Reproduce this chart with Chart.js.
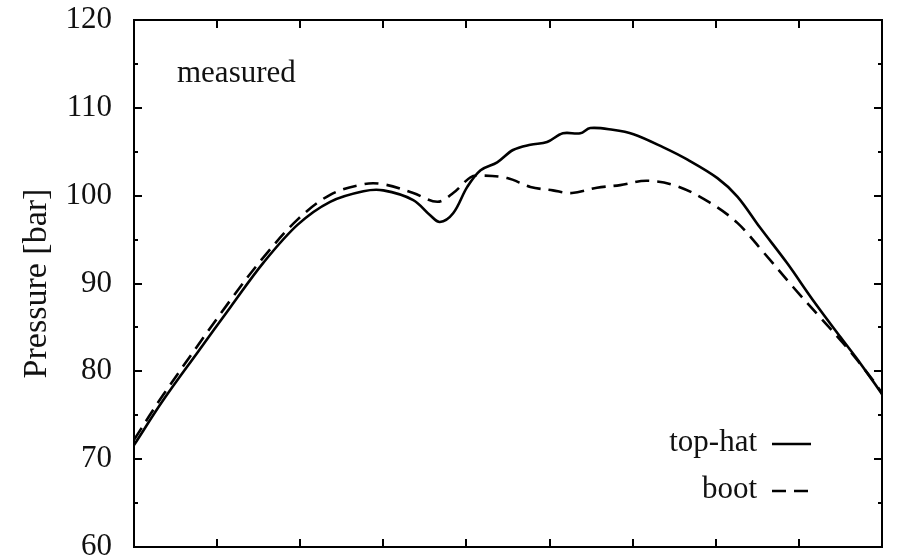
<!DOCTYPE html>
<html>
<head>
<meta charset="utf-8">
<script src="https://cdn.jsdelivr.net/npm/chart.js@4.4.0/dist/chart.umd.min.js"></script>
<style>
  html, body { margin: 0; padding: 0; background: #fff; }
  #wrap { width: 898px; height: 560px; }
</style>
</head>
<body>
<div id="wrap"><canvas id="pressureChart" width="898" height="560"></canvas></div>
<script>
// position along the (unlabelled) x axis, 0..9 between the frame edges
const topHatX = [0.00, 0.35, 0.76, 1.16, 1.56, 1.97, 2.36, 2.76, 3.00, 3.36, 3.56, 3.68, 3.84, 4.01, 4.17,
  4.37, 4.56, 4.77, 4.97, 5.16, 5.37, 5.49, 5.76, 6.01, 6.37, 6.66, 7.02, 7.26, 7.53, 7.86, 8.17, 8.50, 8.74, 9.00];
const topHatP = [71.6, 76.7, 82.1, 87.3, 92.4, 96.7, 99.3, 100.5, 100.6, 99.5, 97.8, 97.0, 98.0, 101.0, 102.9,
  103.8, 105.2, 105.8, 106.1, 107.1, 107.1, 107.7, 107.5, 107.0, 105.5, 104.1, 102.0, 99.9, 96.4, 92.3, 88.1, 83.9, 80.9, 77.4];

const bootX = [0.00, 0.35, 1.16, 1.56, 1.97, 2.36, 2.76, 3.00, 3.36, 3.65, 3.84, 4.05, 4.17, 4.49, 4.77,
  5.04, 5.27, 5.57, 5.85, 6.17, 6.53, 6.93, 7.26, 7.57, 7.93, 8.25, 8.57, 8.89, 9.00];
const bootP = [72.2, 77.3, 88.1, 93.0, 97.3, 100.1, 101.3, 101.3, 100.3, 99.3, 100.3, 102.1, 102.3, 102.0, 101.0,
  100.6, 100.3, 100.9, 101.2, 101.7, 101.1, 99.2, 96.9, 93.6, 89.6, 86.2, 82.8, 79.0, 77.5];

const yMin = 60, yMax = 120, yMajor = 10, yMinor = 5;
const xMin = 0, xMax = 9;
const seriesNames = ['top-hat', 'boot'];
const cornerLabel = 'measured';

const FONT = '"Liberation Serif", "Times New Roman", serif';

const toPoints = (xs, ys) => xs.map((x, i) => ({ x, y: ys[i] }));

// inward tick marks on all four sides, a corner note, and the legend
const framePlugin = {
  id: 'frame',
  afterDraw(chart) {
    const { ctx, chartArea: a } = chart;
    const sx = chart.scales.x, sy = chart.scales.y;
    ctx.save();
    ctx.strokeStyle = '#000';
    ctx.lineWidth = 2;
    ctx.beginPath();
    for (let v = xMin + 1; v < xMax; v++) {
      const px = Math.round(sx.getPixelForValue(v));
      ctx.moveTo(px, a.bottom); ctx.lineTo(px, a.bottom - 8);
      ctx.moveTo(px, a.top);    ctx.lineTo(px, a.top + 8);
    }
    for (let v = yMin + yMinor; v < yMax; v += yMinor) {
      const py = Math.round(sy.getPixelForValue(v));
      const len = v % yMajor === 0 ? 8 : 4;
      ctx.moveTo(a.left, py);  ctx.lineTo(a.left + len, py);
      ctx.moveTo(a.right, py); ctx.lineTo(a.right - len, py);
    }
    ctx.stroke();

    ctx.fillStyle = '#111';
    ctx.font = '31px ' + FONT;
    ctx.textAlign = 'left';
    ctx.textBaseline = 'alphabetic';
    ctx.fillText(cornerLabel, 177, 82);

    const ds = chart.data.datasets;
    const rows = [443, 490];
    ctx.textAlign = 'right';
    ctx.textBaseline = 'middle';
    rows.forEach((y, i) => {
      ctx.fillStyle = '#111';
      ctx.fillText(ds[i].label, 757, y);
      ctx.beginPath();
      ctx.lineWidth = 2.6;
      ctx.setLineDash(ds[i].borderDash || []);
      ctx.moveTo(772, y + 1); ctx.lineTo(811, y + 1);
      ctx.stroke();
    });
    ctx.restore();
  }
};

const noPad = s => { s.paddingTop = 0; s.paddingBottom = 0; s.paddingLeft = 0; s.paddingRight = 0; };

new Chart(document.getElementById('pressureChart'), {
  type: 'line',
  data: {
    datasets: [
      {
        label: seriesNames[0],
        data: toPoints(topHatX, topHatP),
        borderColor: '#000',
        borderWidth: 2.6,
        pointRadius: 0,
        tension: 0.35,
        fill: false
      },
      {
        label: seriesNames[1],
        data: toPoints(bootX, bootP),
        borderColor: '#000',
        borderWidth: 2.6,
        borderDash: [14, 8],
        pointRadius: 0,
        tension: 0.35,
        fill: false
      }
    ]
  },
  options: {
    responsive: false,
    animation: false,
    layout: { padding: { left: 0, right: 16, top: 20, bottom: 13 } },
    plugins: { legend: { display: false }, tooltip: { enabled: false } },
    scales: {
      x: {
        type: 'linear', min: xMin, max: xMax,
        grid: { display: false, drawTicks: false },
        border: { display: true, color: '#000', width: 2 },
        ticks: { display: false },
        afterFit(s) { s.height = 0; noPad(s); }
      },
      x2: {
        type: 'linear', position: 'top', min: xMin, max: xMax,
        grid: { display: false, drawTicks: false },
        border: { display: true, color: '#000', width: 2 },
        ticks: { display: false },
        afterFit(s) { s.height = 0; noPad(s); }
      },
      y: {
        min: yMin, max: yMax,
        grid: { display: false, drawTicks: false },
        border: { display: true, color: '#000', width: 2 },
        ticks: {
          stepSize: yMajor,
          padding: 22,
          color: '#111',
          font: { family: FONT, size: 31 }
        },
        title: {
          display: true,
          text: 'Pressure [bar]',
          color: '#111',
          font: { family: FONT, size: 34 },
          padding: { top: 17, bottom: 0 }
        },
        afterFit(s) { s.width = 134; noPad(s); }
      },
      y2: {
        position: 'right', min: yMin, max: yMax,
        grid: { display: false, drawTicks: false },
        border: { display: true, color: '#000', width: 2 },
        ticks: { display: false },
        afterFit(s) { s.width = 0; noPad(s); }
      }
    }
  },
  plugins: [framePlugin]
});
</script>
</body>
</html>
